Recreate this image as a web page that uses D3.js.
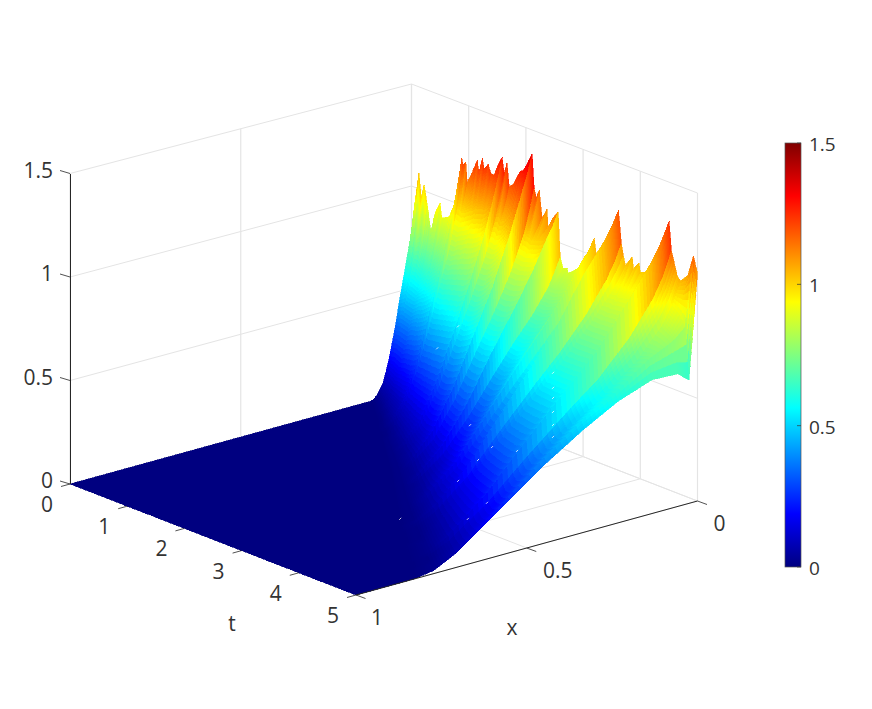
<!DOCTYPE html>
<html><head><meta charset="utf-8">
<script src="https://d3js.org/d3.v7.min.js"></script>
<style>html,body{margin:0;background:#fff}text{font-family:"Open Sans","Noto Sans",sans-serif;font-size:21px;fill:#333}text.bar{font-size:19px}</style>
</head><body><svg id="c" width="872" height="709"></svg>
<script>
const tTicks=[0,1,2,3,4,5], xTicks=[0,0.5,1], zTicks=[0,0.5,1,1.5], barTicks=[0,0.5,1,1.5];
const frontT=[0,1,2,3,4,5], frontX=[0.12,0.26,0.40,0.55,0.69,0.83];
const profileS=[0,0.07,0.15,0.3,0.45,0.6,0.72,0.84,0.93,0.97,1];
const rowT=[0,.04,.13,.17,.22,.27,.34,.42,.5,.53,.66,.81,.88,.9,.95,.975,1.06,1.15,1.18,1.24,1.27,1.34,1.39,1.445,1.52,1.585,1.62,1.67,1.71,1.78,1.9,1.95,2.03,2.11,2.145,2.18,2.235,2.285,2.37,2.39,2.48,2.565,2.6,2.65,2.72,2.74,2.83,2.95,3.04,3.11,3.195,3.235,3.335,3.485,3.57,3.62,3.67,3.705,3.74,3.86,3.88,3.98,4,4.19,4.34,4.445,4.505,4.545,4.575,4.645,4.7,4.83,4.93,5];
const rowZ=[
[.005,.02,.07,.18,.33,.47,.60,.70,.74,.78],
[.005,.02,.07,.18,.34,.48,.60,.72,.80,.88],
[.005,.02,.075,.19,.35,.50,.65,.84,.96,1.08],
[.005,.02,.075,.19,.35,.49,.63,.78,.87,.96],
[.005,.02,.075,.19,.35,.49,.63,.80,.92,1.03],
[.005,.02,.075,.19,.35,.49,.62,.76,.85,.95],
[.005,.02,.075,.19,.35,.49,.61,.71,.76,.81],
[.005,.025,.08,.20,.37,.51,.64,.76,.84,.92],
[.005,.025,.085,.21,.38,.53,.67,.82,.90,.97],
[.005,.025,.085,.21,.38,.53,.66,.78,.84,.90],
[.005,.03,.09,.22,.40,.56,.70,.82,.87,.92],
[.01,.03,.10,.24,.43,.60,.75,.90,.97,1.04],
[.01,.035,.12,.28,.50,.68,.88,1.06,1.15,1.23],
[.005,.03,.105,.25,.45,.63,.80,.99,1.10,1.20],
[.005,.03,.105,.25,.45,.63,.80,.99,1.11,1.22],
[.005,.03,.105,.25,.45,.63,.80,.98,1.05,1.12],
[.005,.03,.11,.26,.46,.64,.82,.99,1.09,1.18],
[.01,.03,.11,.26,.47,.65,.83,1.01,1.13,1.25],
[.01,.03,.11,.265,.47,.65,.84,1.01,1.10,1.19],
[.01,.035,.115,.27,.48,.66,.85,1.03,1.15,1.27],
[.01,.035,.115,.27,.48,.66,.85,1.03,1.12,1.22],
[.01,.035,.115,.275,.49,.67,.86,1.04,1.14,1.25],
[.01,.035,.12,.28,.49,.67,.87,1.04,1.12,1.21],
[.01,.035,.12,.28,.50,.68,.88,1.05,1.12,1.21],
[.01,.035,.125,.29,.51,.70,.90,1.08,1.18,1.27],
[.01,.04,.135,.31,.54,.73,.94,1.13,1.23,1.31],
[.01,.035,.12,.28,.49,.66,.85,1.03,1.14,1.235],
[.01,.035,.12,.28,.49,.66,.85,1.04,1.18,1.29],
[.01,.035,.12,.28,.49,.66,.85,1.02,1.10,1.18],
[.01,.035,.12,.285,.50,.67,.86,1.03,1.11,1.20],
[.01,.04,.13,.30,.52,.70,.90,1.08,1.18,1.275],
[.01,.04,.135,.31,.53,.72,.92,1.11,1.2,1.285],
[.01,.04,.145,.32,.55,.74,.96,1.16,1.25,1.33],
[.01,.045,.16,.35,.59,.78,1.01,1.21,1.3,1.385],
[.01,.035,.125,.29,.50,.66,.84,1.01,1.12,1.218],
[.01,.035,.125,.29,.50,.66,.84,1.0,1.09,1.178],
[.01,.035,.125,.29,.50,.66,.84,1.0,1.12,1.218],
[.01,.035,.125,.29,.50,.66,.84,.99,1.04,1.087],
[.01,.035,.13,.295,.51,.67,.85,1.0,1.08,1.14],
[.01,.035,.13,.295,.51,.67,.85,1.0,1.03,1.05],
[.01,.04,.14,.31,.52,.69,.86,1.01,1.07,1.112],
[.01,.045,.16,.33,.55,.71,.88,1.03,1.09,1.15],
[.01,.035,.125,.27,.44,.57,.69,.80,.87,.93],
[.01,.035,.125,.27,.44,.57,.69,.80,.84,.882],
[.01,.035,.125,.27,.44,.57,.69,.80,.85,.889],
[.01,.035,.125,.27,.44,.57,.69,.80,.83,.867],
[.01,.04,.135,.28,.45,.58,.70,.81,.85,.89],
[.01,.04,.145,.30,.47,.60,.72,.83,.88,.919],
[.01,.045,.155,.32,.50,.63,.76,.88,.94,.986],
[.01,.05,.165,.34,.52,.66,.79,.92,.97,1.018],
[.01,.055,.18,.36,.55,.69,.84,.98,1.03,1.086],
[.01,.05,.16,.33,.50,.63,.76,.90,.95,1.007],
[.01,.05,.165,.33,.50,.63,.77,.89,.93,.98],
[.01,.055,.175,.35,.52,.66,.82,.94,.98,1.03],
[.015,.06,.19,.38,.56,.71,.90,1.03,1.08,1.14],
[.015,.065,.215,.42,.62,.79,1.0,1.13,1.2,1.269],
[.01,.05,.18,.36,.53,.66,.81,.95,1.03,1.112],
[.01,.05,.175,.35,.51,.65,.79,.92,.99,1.057],
[.01,.05,.17,.34,.50,.63,.77,.89,.95,1.012],
[.01,.05,.175,.345,.505,.635,.77,.90,.98,1.069],
[.01,.05,.175,.345,.505,.635,.77,.89,.95,1.012],
[.01,.055,.18,.35,.51,.64,.775,.90,.98,1.052],
[.01,.055,.18,.35,.51,.64,.775,.90,.95,1.006],
[.015,.055,.19,.36,.52,.65,.78,.91,.97,1.03],
[.015,.06,.20,.38,.55,.68,.83,.97,1.04,1.1],
[.015,.065,.215,.40,.58,.72,.90,1.05,1.13,1.22],
[.015,.07,.23,.43,.62,.77,.97,1.13,1.22,1.309],
[.01,.055,.19,.36,.52,.64,.80,.96,1.06,1.17],
[.01,.055,.185,.35,.51,.63,.78,.93,1.03,1.14],
[.01,.055,.18,.34,.49,.60,.73,.87,.96,1.06],
[.01,.055,.18,.34,.48,.59,.71,.84,.93,1.04],
[.015,.06,.195,.36,.51,.61,.73,.82,.90,1.08],
[.015,.065,.215,.38,.53,.62,.74,.80,.85,1.188],
[.015,.07,.22,.37,.50,.59,.65,.645,.60,1.107]
];
// small white gaps where the rendered surface tears
const gapT=[2.605,2.24,2.815,3.2,2.955,3.636,3.8,4.305,3.97,4.28,4.266,4.266,4.266,4.266,4.266,4.266];
const gapX=[.3,.3,.3,.3,.3,.3,.5,.5,.5,.75,.3,.3,.3,.3,.3,.3];
const gapZ=[.728,.582,.27,.205,.116,.233,.196,.144,.03,.177,.68,.607,.558,.49,.427,.369];
const jetStops=[0,.125,.375,.625,.875,1], jetColors=["#000080","#0000ff","#00ffff","#ffff00","#ff0000","#800000"];

const svg=d3.select("#c");
const tPx=d3.scaleLinear([0,5],[0,286]), tPy=d3.scaleLinear([0,5],[0,111]);
const xPx=d3.scaleLinear([1,0],[0,341.5]), xPy=d3.scaleLinear([1,0],[0,-94]);
const zPy=d3.scaleLinear([0,1.5],[0,-1]);
const zSpan=(t,x)=>310.5-4.5*(1-x)+2*t/5;
const P=(t,x,z=0)=>[70+tPx(t)+xPx(x),484+tPy(t)+xPy(x)+zPy(z)*zSpan(t,x)];
const jet=d3.scaleLinear().domain(jetStops.map(v=>v*1.5)).range(jetColors).clamp(true);
const front=d3.scaleLinear(frontT,frontX);
const line=(a,b,col,w)=>svg.append("line").attr("x1",a[0]).attr("y1",a[1]).attr("x2",b[0]).attr("y2",b[1]).attr("stroke",col).attr("stroke-width",w);

// grid
const gc="#e4e4e4";
tTicks.forEach(t=>{line(P(t,1),P(t,0),gc,1);line(P(t,0),P(t,0,1.5),gc,1.2);});
xTicks.forEach(x=>{line(P(0,x),P(5,x),gc,1);line(P(0,x),P(0,x,1.5),gc,1.2);});
zTicks.forEach(z=>{line(P(0,1,z),P(0,0,z),gc,1);line(P(0,0,z),P(5,0,z),gc,1);});

// surface cells, painted far to near
const full=rowZ.map(r=>[0,...r]);
const cells=[];
const pt=(i,u,j,v)=>{
  const t=rowT[i]+(rowT[i+1]-rowT[i])*u;
  const s=profileS[j]+(profileS[j+1]-profileS[j])*v;
  const a=full[i][j]+(full[i][j+1]-full[i][j])*v, b=full[i+1][j]+(full[i+1][j+1]-full[i+1][j])*v;
  return {t,s,z:a+(b-a)*u};
};
for(let i=0;i<rowT.length-1;i++){
  const nT=rowT[i+1]-rowT[i]>0.06?3:1;
  for(let a=0;a<nT;a++){
    const u0=a/nT,u1=(a+1)/nT;
    for(let j=profileS.length-2;j>=0;j--){
      for(let b=8;b>0;b--){
        const v1=b/8,v0=(b-1)/8;
        cells.push([pt(i,u0,j,v1),pt(i,u1,j,v1),pt(i,u1,j,v0),pt(i,u0,j,v0)]);
      }
    }
    const t0=rowT[i]+(rowT[i+1]-rowT[i])*u0,t1=rowT[i]+(rowT[i+1]-rowT[i])*u1;
    cells.push([{t:t0,s:0,z:0},{t:t1,s:0,z:0},{t:t1,s:-1,z:0},{t:t0,s:-1,z:0}]);
  }
}
const toXY=c=>P(c.t,c.s<0?1:front(c.t)*(1-c.s),c.z);
svg.append("g").attr("shape-rendering","crispEdges").selectAll("path").data(cells).join("path")
  .attr("d",d=>"M"+d.map(c=>toXY(c).map(v=>v.toFixed(2)).join(",")).join("L")+"Z")
  .attr("fill",d=>jet(d3.mean(d,c=>c.z)))
  .attr("stroke",d=>jet(d3.mean(d,c=>c.z)))
  .attr("stroke-width",0.6);
gapT.forEach((t,i)=>{const a=P(t,gapX[i],gapZ[i]);
  line([a[0]-1,a[1]+1],[a[0]+1,a[1]-1],"#fff",.9).attr("opacity",.85);});

// axes
const ac="#262626";
line(P(0,1,0),P(0,1,1.5),ac,1).attr("shape-rendering","crispEdges");
line(P(5,1),P(5,0),ac,1);
zTicks.forEach(z=>{const a=P(0,1,z);line(a,[a[0]-10,a[1]-3],ac,.8);});
tTicks.forEach(t=>{const a=P(t,1);line(a,[a[0]-9,a[1]+2.5],ac,.8);});
xTicks.forEach(x=>{const a=P(5,x);line(a,[a[0]+9.5,a[1]+3.5],ac,.8);});
const label=(s,x,y,anchor="middle")=>svg.append("text").attr("x",x).attr("y",y).attr("text-anchor",anchor).attr("dominant-baseline","central").text(s);
zTicks.forEach(z=>{const a=P(0,1,z);label(z,a[0]-17,a[1]-4,"end");});
tTicks.forEach(t=>{const a=P(t,1);label(t,a[0]-23,a[1]+20);});
xTicks.forEach(x=>{const a=P(5,x);label(x,a[0]+(x==.5?31:x==0?22:21),a[1]+22);});
label("t",232,623);label("x",512,627);

// colorbar
const barY=d3.scaleLinear([0,1.5],[567,143]);
const grad=svg.append("defs").append("linearGradient").attr("id","jet").attr("x1",0).attr("x2",0).attr("y1",1).attr("y2",0);
jetStops.forEach((s,i)=>grad.append("stop").attr("offset",s).attr("stop-color",jetColors[i]));
svg.append("rect").attr("x",785).attr("y",143).attr("width",16).attr("height",424).attr("fill","url(#jet)").attr("stroke","#555").attr("stroke-width",.7);
barTicks.forEach(v=>{line([797,barY(v)],[801,barY(v)],"#333",.7);label(v,809,barY(v)+1,"start").attr("class","bar");});
</script></body></html>
